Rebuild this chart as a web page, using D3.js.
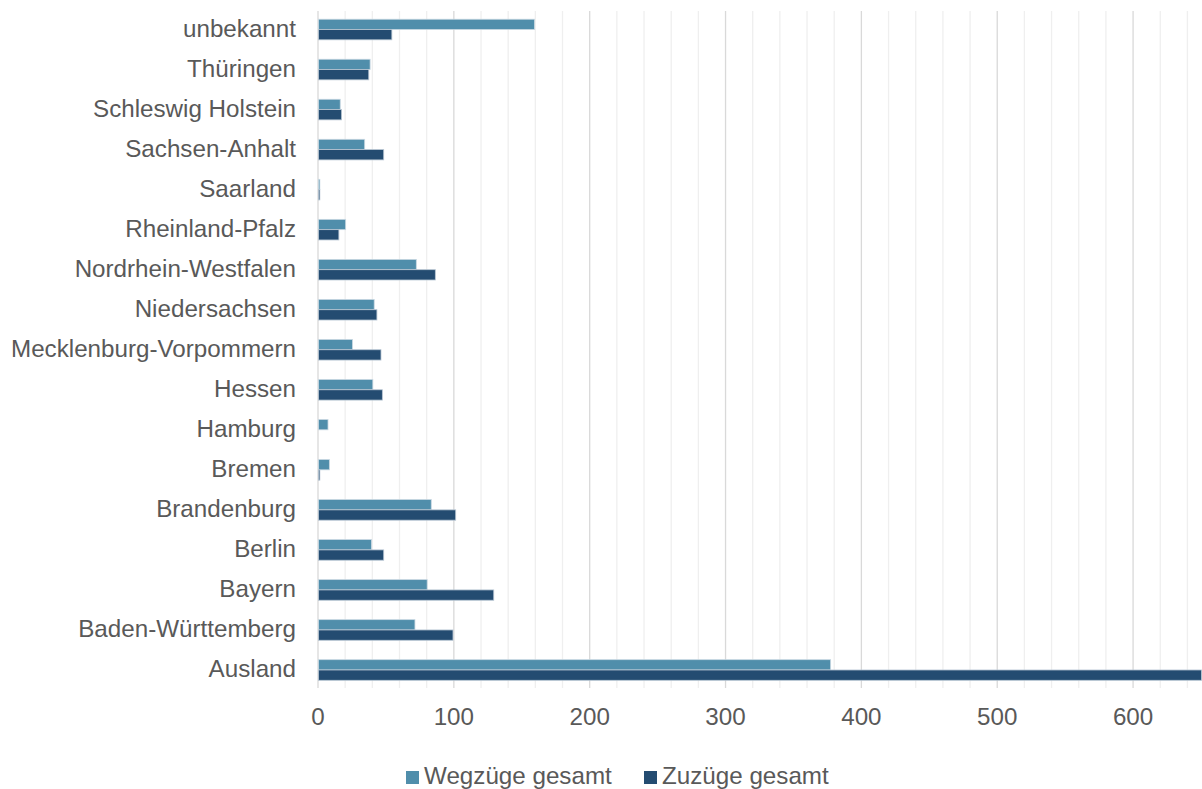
<!DOCTYPE html>
<html>
<head>
<meta charset="utf-8">
<script src="https://cdn.jsdelivr.net/npm/d3@7"></script>
<style>
  html, body { margin: 0; padding: 0; background: #fff; }
  svg { display: block; font-family: "Liberation Sans", Arial, sans-serif; }
</style>
</head>
<body>
<svg id="chart" width="1202" height="789"></svg>
<script>
// Categories, top to bottom as displayed
const categories = ["unbekannt", "Thüringen", "Schleswig Holstein", "Sachsen-Anhalt", "Saarland",
  "Rheinland-Pfalz", "Nordrhein-Westfalen", "Niedersachsen", "Mecklenburg-Vorpommern", "Hessen",
  "Hamburg", "Bremen", "Brandenburg", "Berlin", "Bayern", "Baden-Württemberg", "Ausland"];
const wegzuege = [159, 38, 16, 34, 1, 20, 72, 41, 25, 40, 7, 8, 83, 39, 80, 71, 377];
const zuzuege  = [54, 37, 17, 48, 1, 15, 86, 43, 46, 47, 0, 1, 101, 48, 129, 99, 650];
const seriesNames = ["Wegzüge gesamt", "Zuzüge gesamt"];
const seriesColors = ["#508EAB", "#244C71"];
const xTicks = [0, 100, 200, 300, 400, 500, 600];
const xMax = 650;

const svg = d3.select("#chart");
const plot = { left: 318, right: 1201, top: 9.5, bottom: 690 };
const fontSize = 24.2;

const x = d3.scaleLinear().domain([0, xMax]).range([plot.left, plot.right]);
const y = d3.scaleBand().domain(categories).range([plot.top, plot.bottom]).padding(0);
const barH = 10.3;

// Gridlines
const minor = d3.range(20, xMax, 20).filter(v => v % 100 !== 0);
svg.append("g").selectAll("line").data(minor).join("line")
  .attr("x1", d => x(d)).attr("x2", d => x(d))
  .attr("y1", 11).attr("y2", 688)
  .attr("stroke", "#efefef").attr("stroke-width", 1.3);
svg.append("g").selectAll("line").data(xTicks).join("line")
  .attr("x1", d => x(d)).attr("x2", d => x(d))
  .attr("y1", 11).attr("y2", 688)
  .attr("stroke", "#d9d9d9").attr("stroke-width", 1.3);

// Bars
const rows = categories.map((c, i) => ({ c, w: wegzuege[i], z: zuzuege[i] }));
const g = svg.append("g");
g.selectAll("rect.weg").data(rows).join("rect").attr("class", "weg")
  .attr("x", x(0) + 0.5)
  .attr("y", d => y(d.c) + y.bandwidth() / 2 - barH)
  .attr("width", d => Math.max(0, x(d.w) - x(0)))
  .attr("height", barH)
  .attr("fill", seriesColors[0])
  .attr("stroke", d => d.w > 0 ? "#c9d8e2" : "none").attr("stroke-width", 0.8);
g.selectAll("rect.zu").data(rows).join("rect").attr("class", "zu")
  .attr("x", x(0) + 0.5)
  .attr("y", d => y(d.c) + y.bandwidth() / 2)
  .attr("width", d => Math.max(0, x(Math.min(d.z, xMax)) - x(0)))
  .attr("height", barH)
  .attr("fill", seriesColors[1])
  .attr("stroke", d => d.z > 0 ? "#b8c6d3" : "none").attr("stroke-width", 0.8);

// Category labels
svg.append("g").selectAll("text").data(categories).join("text")
  .attr("x", 296)
  .attr("y", d => y(d) + y.bandwidth() / 2 + 7.4)
  .attr("text-anchor", "end")
  .attr("font-size", fontSize)
  .attr("fill", "#595959")
  .text(d => d);

// X axis tick labels
svg.append("g").selectAll("text").data(xTicks).join("text")
  .attr("x", d => x(d))
  .attr("y", 725)
  .attr("text-anchor", "middle")
  .attr("font-size", fontSize)
  .attr("fill", "#595959")
  .text(d => d);

// Legend
const legendX = [406, 644];
const leg = svg.append("g");
seriesNames.forEach((name, i) => {
  leg.append("rect").attr("x", legendX[i]).attr("y", 771).attr("width", 13).attr("height", 13)
    .attr("fill", seriesColors[i]);
  leg.append("text").attr("x", legendX[i] + 18).attr("y", 784)
    .attr("font-size", fontSize).attr("fill", "#595959").text(name);
});
</script>
</body>
</html>
